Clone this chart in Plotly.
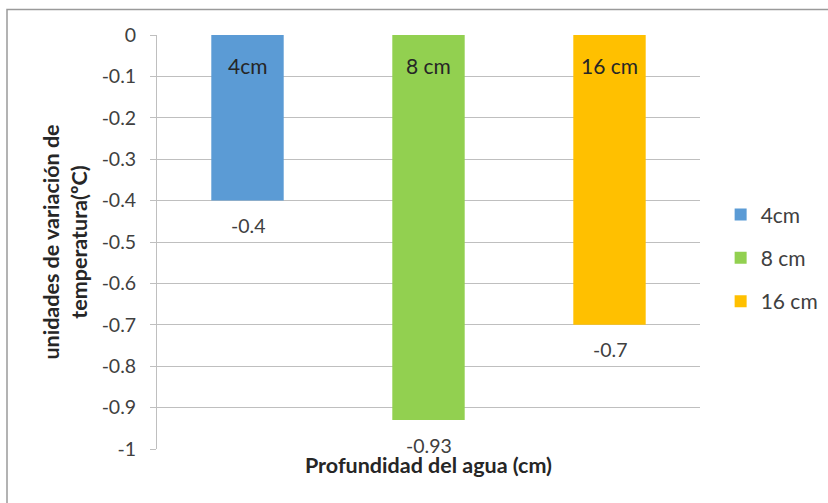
import plotly.graph_objects as go

categories = ["4cm", "8 cm", "16 cm"]
values = [-0.4, -0.93, -0.7]
colors = ["#5B9BD5", "#92D050", "#FFC000"]
tick_vals = [0, -0.1, -0.2, -0.3, -0.4, -0.5, -0.6, -0.7, -0.8, -0.9, -1]
tick_text = ["0", "-0.1", "-0.2", "-0.3", "-0.4", "-0.5", "-0.6", "-0.7", "-0.8", "-0.9", "-1"]

FONT = "Lato"
NUM = 19.5
TXT = 21
BOLD = 21.5
W, H = 828, 503
L, R, T, B = 157, 128, 35, 54
pw, ph = W - L - R, H - T - B

def px_x(p):
    return (p - L) / pw

def px_y(p):
    return (H - B - p) / ph

fig = go.Figure()
for i, (c, v, col) in enumerate(zip(categories, values, colors)):
    fig.add_trace(go.Bar(
        x=[c], y=[v], name=c, marker=dict(color=col, line=dict(width=0)),
        width=0.4, legendgroup=c, hoverinfo="skip",
    ))
    fig.add_annotation(x=c, y=0, text=c, showarrow=False, yshift=-30,
                       font=dict(family=FONT, size=TXT, color="#262626"))
    fig.add_annotation(x=c, y=v, text=str(v), showarrow=False, yshift=-25,
                       font=dict(family=FONT, size=NUM, color="#404040"))

fig.add_shape(type="rect", xref="paper", yref="paper",
              x0=px_x(7), x1=px_x(840), y0=px_y(515), y1=px_y(9.5),
              line=dict(color="#9a9a9a", width=1.5), layer="below")

fig.update_layout(
    width=W, height=H,
    margin=dict(l=L, r=R, t=T, b=B, autoexpand=False),
    paper_bgcolor="white", plot_bgcolor="white",
    barmode="overlay",
    font=dict(family=FONT, size=NUM, color="#404040"),
    showlegend=True,
    legend=dict(x=1.038, y=0.615, xanchor="left", yanchor="top",
                font=dict(family=FONT, size=TXT, color="#404040"),
                tracegroupgap=13, traceorder="grouped", itemwidth=30,
                bgcolor="rgba(0,0,0,0)"),
    xaxis=dict(showticklabels=False, showgrid=False, zeroline=False,
               showline=False, ticks="", categoryorder="array",
               categoryarray=categories,
               title=dict(text="<b>Profundidad del agua (cm)</b>",
                          font=dict(family=FONT, size=BOLD, color="#262626"),
                          standoff=8)),
    yaxis=dict(range=[-1, 0], tickvals=tick_vals, ticktext=tick_text,
               showgrid=True, gridcolor="#bfbfbf", gridwidth=1,
               zeroline=False, showline=True, linecolor="#bfbfbf",
               ticks="outside", ticklen=6, tickcolor="#bfbfbf",
               ticklabelstandoff=10,
               tickfont=dict(family=FONT, size=NUM, color="#404040"),
               title=dict(text="<b>unidades de variación de<br>temperatura(ºC)</b>",
                          font=dict(family=FONT, size=BOLD, color="#262626"),
                          standoff=8)),
)

fig.write_html("out.html")
